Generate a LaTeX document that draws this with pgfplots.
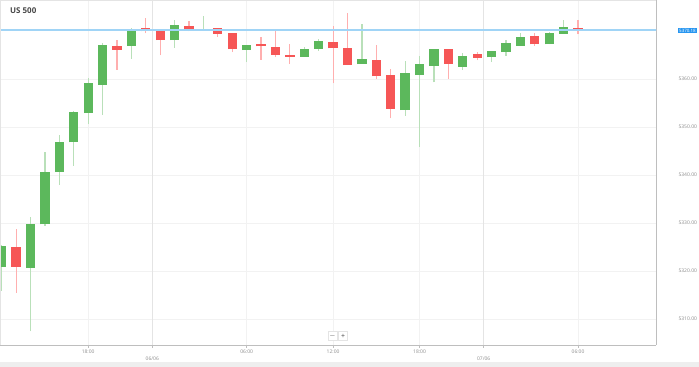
\documentclass[border=0pt]{standalone}
\usepackage{pgfplots}
\pgfplotsset{compat=1.18}
\usepackage{pgfplotstable}
\usepackage{fontspec}
\setmainfont{Open Sans}
\definecolor{upbody}{RGB}{92,184,92}
\definecolor{dnbody}{RGB}{246,86,86}
\definecolor{upwick}{RGB}{185,224,185}
\definecolor{dnwick}{RGB}{255,175,175}
\definecolor{priceline}{RGB}{160,212,246}
\definecolor{pricebg}{RGB}{40,150,240}
\definecolor{gridc}{RGB}{242,242,242}
\definecolor{gridd}{RGB}{228,228,228}
\definecolor{axisc}{RGB}{190,190,190}
\definecolor{labc}{RGB}{140,140,140}
\definecolor{titlec}{RGB}{70,70,70}
\definecolor{stripc}{RGB}{238,238,238}

\pgfplotstableread{
x o h l c
0 5320.9 5325.4 5315.9 5325.1
2 5320.6 5331.3 5307.4 5329.6
3 5329.7 5344.7 5329.4 5340.5
4 5340.6 5348.3 5337.9 5346.8
5 5346.8 5353.3 5341.9 5353.0
6 5352.9 5360.3 5350.6 5359.0
7 5358.8 5367.4 5352.5 5366.9
9 5366.9 5370.7 5364.2 5370.1
12 5368.1 5372.3 5366.5 5371.0
14 5370.0 5373.1 5370.0 5370.3
17 5366.0 5367.0 5363.5 5367.0
21 5364.6 5366.7 5364.6 5366.2
22 5366.3 5368.3 5365.8 5367.7
25 5363.1 5371.5 5363.1 5364.0
28 5353.5 5363.8 5352.3 5361.0
29 5360.8 5364.7 5345.9 5363.0
30 5362.7 5366.2 5359.3 5366.2
32 5362.5 5365.4 5361.9 5364.7
34 5364.5 5365.7 5363.5 5365.7
35 5365.6 5368.1 5364.8 5367.3
36 5366.9 5369.5 5366.9 5368.7
38 5367.2 5369.8 5367.2 5369.4
39 5369.4 5372.3 5369.4 5370.7
}\greentab

\pgfplotstableread{
x o h l c
1 5324.9 5328.8 5315.5 5320.9
8 5366.8 5368.2 5361.9 5366.1
10 5370.4 5372.8 5369.5 5369.9
11 5369.9 5369.9 5364.9 5368.1
13 5370.8 5372.0 5369.9 5370.2
15 5370.4 5370.4 5368.8 5369.4
16 5369.4 5369.4 5365.6 5366.2
18 5367.2 5368.7 5364.0 5366.8
19 5366.6 5370.0 5364.5 5365.0
20 5364.9 5367.3 5363.1 5364.6
23 5367.6 5371.1 5359.1 5366.4
24 5366.3 5373.7 5362.9 5362.9
26 5363.8 5367.0 5360.0 5360.6
27 5360.6 5362.0 5351.8 5353.8
31 5366.0 5366.0 5360.0 5363.2
33 5365.0 5365.6 5363.9 5364.4
37 5368.8 5369.5 5366.9 5367.2
40 5370.5 5372.3 5369.3 5370.0
}\redtab

\begin{document}
\begin{tikzpicture}
\path[use as bounding box] (0bp,-22bp) rectangle (699bp,345bp);
\fill[stripc] (0bp,-22bp) rectangle (699bp,-17bp);
\begin{axis}[
  at={(0bp,0bp)}, anchor=south west,
  scale only axis, width=656bp, height=345bp,
  xmin=-0.118, xmax=45.41,
  ymin=5304.583, ymax=5376.458,
  axis x line*=bottom, axis y line*=right,
  axis line style={axisc, line width=0.8bp},
  clip mode=individual,
  xtick={6,17,23,29,40},
  xticklabels={18:00,06:00,12:00,18:00,06:00},
  extra x ticks={10.45,33.45},
  extra x tick labels={06/06,07/06},
  extra x tick style={grid style={gridd, line width=0.8bp}, tick label style={yshift=-7bp}},
  xmajorgrids, ymajorgrids,
  grid style={gridc, line width=0.8bp},
  ytick={5310,5320,5330,5340,5350,5360},
  yticklabel pos=right,
  y tick label style={anchor=west, xshift=16bp},
  yticklabel style={/pgf/number format/.cd, fixed, fixed zerofill, precision=2, 1000 sep={}},
  /pgf/number format/assume math mode=true,
  ytick style={draw=none},
  x tick style={axisc, line width=0.6bp},
  major tick length=3bp, tick align=outside,
  tick label style={font=\fontsize{5}{6}\selectfont, text=labc},
  x tick label style={yshift=1.5bp},
]
% wicks
\addplot[draw=none, mark=none, forget plot,
  error bars/.cd, y dir=plus, y explicit, error mark=none,
  error bar style={draw=upwick, line width=1.2bp}]
  table[x=x, y=l, y error plus expr=\thisrow{h}-\thisrow{l}] {\greentab};
\addplot[draw=none, mark=none, forget plot,
  error bars/.cd, y dir=plus, y explicit, error mark=none,
  error bar style={draw=dnwick, line width=1.2bp}]
  table[x=x, y=l, y error plus expr=\thisrow{h}-\thisrow{l}] {\redtab};
% bodies
\addplot[draw=none, mark=none, forget plot,
  error bars/.cd, y dir=plus, y explicit, error mark=none,
  error bar style={draw=upbody, line width=9.3bp}]
  table[x=x, y=o, y error plus expr=\thisrow{c}-\thisrow{o}+0.15] {\greentab};
\addplot[draw=none, mark=none, forget plot,
  error bars/.cd, y dir=plus, y explicit, error mark=none,
  error bar style={draw=dnbody, line width=9.3bp}]
  table[x=x, y=c, y error plus expr=\thisrow{o}-\thisrow{c}+0.15] {\redtab};
% current price line
\addplot[priceline, line width=1.6bp, forget plot] coordinates {(-1,5370.18) (46,5370.18)};
\end{axis}
\draw[gridd, line width=0.8bp] (0bp,0bp) -- (0bp,345bp) -- (656bp,345bp);
\node[anchor=west, inner sep=0pt, font=\bfseries\fontsize{8}{9}\selectfont, text=titlec] at (10bp,334bp) {US 500};
\node[anchor=west, fill=pricebg, text=white, inner sep=1bp, font=\fontsize{4.5}{5}\selectfont] at (678bp,314.5bp) {5370.18};
\node[draw=gridd, fill=white, minimum size=9bp, inner sep=0pt, font=\fontsize{7}{7}\selectfont, text=titlec] at (332.5bp,9bp) {$-$};
\node[draw=gridd, fill=white, minimum size=9bp, inner sep=0pt, font=\fontsize{7}{7}\selectfont, text=titlec] at (343bp,9bp) {+};
\end{tikzpicture}
\end{document}
